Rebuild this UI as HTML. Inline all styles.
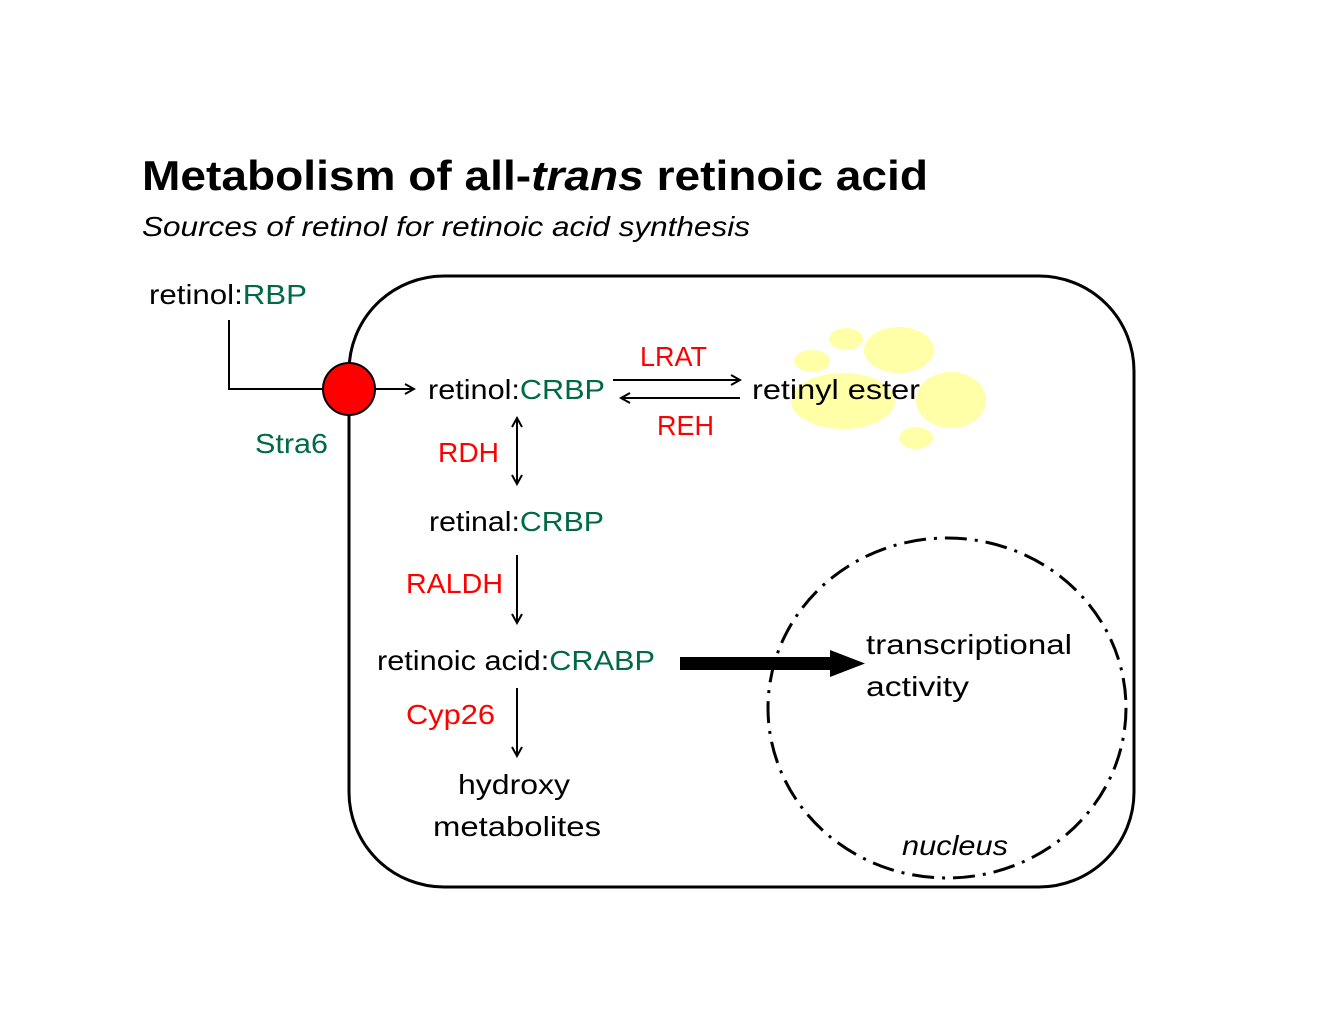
<!DOCTYPE html>
<html><head><meta charset="utf-8"><style>body{margin:0;background:#fff}svg{display:block}text{font-family:"Liberation Sans",sans-serif}</style></head>
<body>
<svg width="1334" height="1031" viewBox="0 0 1334 1031" xmlns="http://www.w3.org/2000/svg">
<defs><marker id="a" markerWidth="12" markerHeight="12" refX="10" refY="6" orient="auto" markerUnits="userSpaceOnUse"><path d="M1,1 L10,6 L1,11" fill="none" stroke="#000" stroke-width="2"/></marker></defs>
<text x="142" y="190" font-size="42" font-weight="bold" textLength="786" lengthAdjust="spacingAndGlyphs">Metabolism of all-<tspan font-style="italic">trans</tspan> retinoic acid</text>
<text x="142" y="236" font-size="28" font-style="italic" textLength="608" lengthAdjust="spacingAndGlyphs">Sources of retinol for retinoic acid synthesis</text>
<rect x="349" y="276" width="785" height="611" rx="95" fill="none" stroke="#000" stroke-width="3"/>
<g fill="#ffffa8">
<ellipse cx="812" cy="361" rx="18" ry="11"/><ellipse cx="846" cy="339" rx="17" ry="11"/><ellipse cx="899" cy="350" rx="35" ry="23"/>
<ellipse cx="843" cy="401" rx="52" ry="28"/><ellipse cx="951" cy="400" rx="35" ry="28"/><ellipse cx="916" cy="438" rx="17" ry="11"/>
</g>
<ellipse cx="947" cy="708" rx="179" ry="170" fill="none" stroke="#000" stroke-width="3" stroke-dasharray="22,8,3,8"/>
<polyline points="229,320 229,389 323,389" fill="none" stroke="#000" stroke-width="2"/>
<line x1="375" y1="389" x2="414" y2="389" stroke="#000" stroke-width="2" marker-end="url(#a)"/>
<circle cx="349" cy="389" r="26" fill="#f00" stroke="#000" stroke-width="2"/>
<line x1="613" y1="380" x2="740" y2="380" stroke="#000" stroke-width="2" marker-end="url(#a)"/>
<line x1="740" y1="398" x2="621" y2="398" stroke="#000" stroke-width="2" marker-end="url(#a)"/>
<line x1="517" y1="430" x2="517" y2="484" stroke="#000" stroke-width="2" marker-end="url(#a)"/>
<line x1="517" y1="484" x2="517" y2="418" stroke="#000" stroke-width="2" marker-end="url(#a)"/>
<line x1="517" y1="555" x2="517" y2="623" stroke="#000" stroke-width="2" marker-end="url(#a)"/>
<line x1="517" y1="688" x2="517" y2="756" stroke="#000" stroke-width="2" marker-end="url(#a)"/>
<rect x="680" y="657" width="150" height="13" fill="#000"/>
<polygon points="830,650 865,663.5 830,677" fill="#000"/>
<g font-size="28">
<text x="149" y="304" textLength="158" lengthAdjust="spacingAndGlyphs">retinol:<tspan fill="#006a45">RBP</tspan></text>
<text x="255" y="453" fill="#006a45" textLength="73" lengthAdjust="spacingAndGlyphs">Stra6</text>
<text x="428" y="399" textLength="177" lengthAdjust="spacingAndGlyphs">retinol:<tspan fill="#006a45">CRBP</tspan></text>
<text x="640" y="366" fill="#f00" textLength="67" lengthAdjust="spacingAndGlyphs">LRAT</text>
<text x="657" y="435" fill="#f00" textLength="57" lengthAdjust="spacingAndGlyphs">REH</text>
<text x="752" y="399" textLength="168" lengthAdjust="spacingAndGlyphs">retinyl ester</text>
<text x="438" y="462" fill="#f00" textLength="61" lengthAdjust="spacingAndGlyphs">RDH</text>
<text x="429" y="531" textLength="175" lengthAdjust="spacingAndGlyphs">retinal:<tspan fill="#006a45">CRBP</tspan></text>
<text x="406" y="593" fill="#f00" textLength="97" lengthAdjust="spacingAndGlyphs">RALDH</text>
<text x="377" y="670" textLength="278" lengthAdjust="spacingAndGlyphs">retinoic acid:<tspan fill="#006a45">CRABP</tspan></text>
<text x="406" y="724" fill="#f00" textLength="89" lengthAdjust="spacingAndGlyphs">Cyp26</text>
<text x="458" y="794" textLength="112" lengthAdjust="spacingAndGlyphs">hydroxy</text>
<text x="433" y="836" textLength="168" lengthAdjust="spacingAndGlyphs">metabolites</text>
<text x="866" y="654" textLength="206" lengthAdjust="spacingAndGlyphs">transcriptional</text>
<text x="866" y="696" textLength="103" lengthAdjust="spacingAndGlyphs">activity</text>
<text x="902" y="855" font-style="italic" textLength="106" lengthAdjust="spacingAndGlyphs">nucleus</text>
</g>
</svg>
</body></html>
